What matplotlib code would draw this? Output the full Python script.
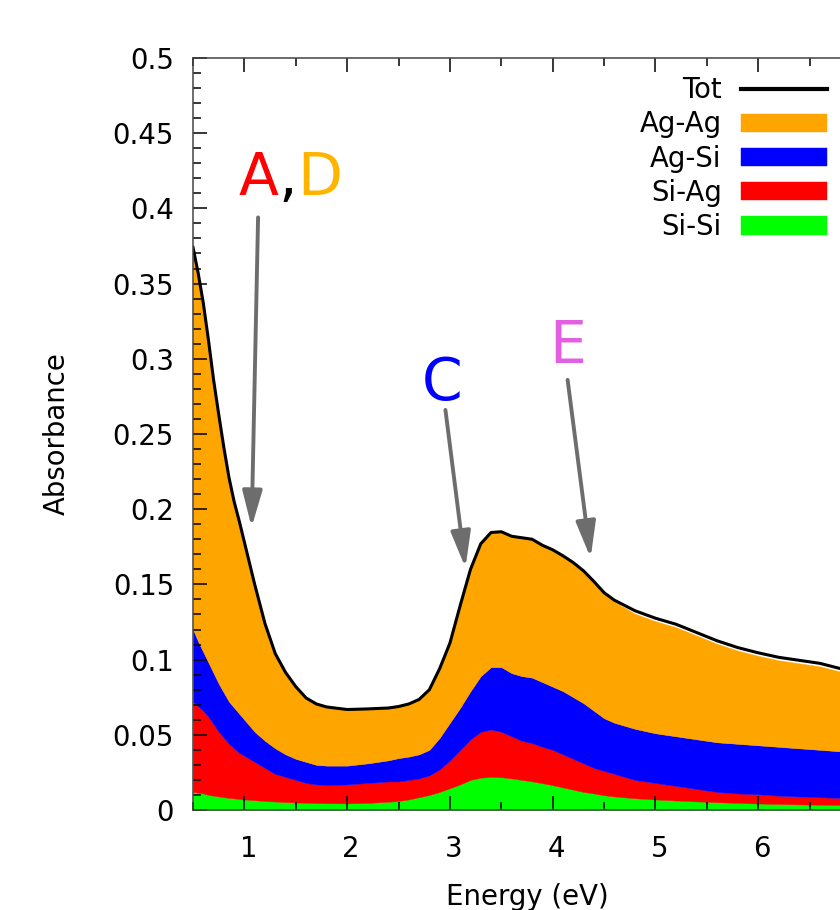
import numpy as np
import matplotlib.pyplot as plt
import matplotlib.transforms as mtransforms
from matplotlib.ticker import MultipleLocator, FormatStrFormatter

# photon energy grid (eV)
energy = [0.5, 0.55, 0.6, 0.65, 0.7, 0.75, 0.8, 0.85, 0.9, 0.95, 1.0,
          1.1, 1.2, 1.3, 1.4, 1.5, 1.6, 1.7, 1.8, 2.0, 2.2, 2.4,
          2.5, 2.6, 2.7, 2.8, 2.9, 3.0, 3.1, 3.2, 3.3, 3.4, 3.5, 3.6, 3.7,
          3.8, 3.9, 4.0, 4.1, 4.2, 4.3, 4.4, 4.5, 4.6,
          4.8, 5.0, 5.2, 5.4, 5.6, 5.8, 6.0, 6.2, 6.4, 6.6, 6.8, 7.0]

# total absorbance
tot = [0.374, 0.357, 0.337, 0.3125, 0.286, 0.263, 0.241, 0.221, 0.205, 0.192, 0.178,
       0.150, 0.124, 0.104, 0.0915, 0.082, 0.0745, 0.0705, 0.0685, 0.0668, 0.0672, 0.0678,
       0.0688, 0.0705, 0.0735, 0.080, 0.094, 0.111, 0.136, 0.160, 0.177, 0.1845, 0.185, 0.182, 0.181,
       0.180, 0.176, 0.173, 0.169, 0.1645, 0.159, 0.152, 0.1445, 0.1395,
       0.1325, 0.1275, 0.1235, 0.118, 0.1125, 0.108, 0.1045, 0.1015, 0.0995, 0.0975, 0.094, 0.0905]

# cumulative upper edges of the stacked contributions
top_agag = [0.374, 0.357, 0.337, 0.3125, 0.286, 0.263, 0.241, 0.221, 0.205, 0.192, 0.178,
            0.150, 0.124, 0.104, 0.0915, 0.082, 0.0745, 0.0705, 0.0685, 0.0668, 0.0672, 0.0678,
            0.0688, 0.0705, 0.0735, 0.080, 0.094, 0.111, 0.136, 0.160, 0.177, 0.1845, 0.185, 0.182, 0.181,
            0.180, 0.176, 0.173, 0.169, 0.1645, 0.159, 0.152, 0.1445, 0.1385,
            0.1305, 0.1255, 0.1215, 0.116, 0.1105, 0.106, 0.1025, 0.0995, 0.0975, 0.0955, 0.092, 0.0885]

top_agsi = [0.120, 0.112, 0.105, 0.098, 0.091, 0.084, 0.078, 0.072, 0.068, 0.064, 0.060,
            0.052, 0.046, 0.041, 0.037, 0.034, 0.032, 0.030, 0.0295, 0.0295, 0.031, 0.033,
            0.0345, 0.0355, 0.037, 0.040, 0.048, 0.058, 0.068, 0.079, 0.089, 0.095, 0.095, 0.091, 0.089,
            0.088, 0.085, 0.082, 0.079, 0.075, 0.071, 0.066, 0.061, 0.058,
            0.054, 0.051, 0.049, 0.047, 0.045, 0.044, 0.043, 0.042, 0.041, 0.040, 0.039, 0.038]

top_siag = [0.072, 0.069, 0.066, 0.062, 0.057, 0.052, 0.048, 0.044, 0.041, 0.038, 0.036,
            0.032, 0.028, 0.024, 0.022, 0.020, 0.018, 0.017, 0.0165, 0.017, 0.018, 0.019,
            0.019, 0.020, 0.021, 0.023, 0.027, 0.033, 0.040, 0.047, 0.052, 0.0535, 0.052, 0.049, 0.046,
            0.0445, 0.042, 0.040, 0.037, 0.034, 0.031, 0.028, 0.026, 0.024,
            0.020, 0.018, 0.016, 0.014, 0.012, 0.011, 0.0105, 0.0095, 0.009, 0.0085, 0.008, 0.0075]

top_sisi = [0.012, 0.0115, 0.011, 0.010, 0.0095, 0.009, 0.0085, 0.008, 0.0077, 0.0073, 0.007,
            0.0065, 0.006, 0.0056, 0.0053, 0.005, 0.0048, 0.0046, 0.0045, 0.0044, 0.0047, 0.0055,
            0.006, 0.007, 0.0085, 0.010, 0.012, 0.0145, 0.017, 0.020, 0.0215, 0.022, 0.0218, 0.021, 0.020,
            0.019, 0.0178, 0.0165, 0.015, 0.0135, 0.012, 0.011, 0.0098, 0.009,
            0.0078, 0.007, 0.0063, 0.0057, 0.0052, 0.0047, 0.0043, 0.004, 0.0037, 0.0035, 0.0033, 0.0031]

xtick_vals = [1, 2, 3, 4, 5, 6]

fs = 19.8
plt.rcParams['font.family'] = 'DejaVu Sans'

fig = plt.figure(figsize=(8.4, 9.1), dpi=100)
ax = fig.add_axes([0.2298, 0.1099, 0.7952, 0.8264])

E = np.array(energy)
f_sisi = ax.fill_between(E, 0, top_sisi, color='#00ff00', ec='face', lw=0.3, label='Si-Si')
f_siag = ax.fill_between(E, top_sisi, top_siag, color='#ff0000', ec='face', lw=0.3, label='Si-Ag')
f_agsi = ax.fill_between(E, top_siag, top_agsi, color='#0000ff', ec='face', lw=0.3, label='Ag-Si')
f_agag = ax.fill_between(E, top_agsi, top_agag, color='#ffa500', ec='face', lw=0.3, label='Ag-Ag')
l_tot, = ax.plot(E, tot, color='black', lw=2.2, label='Tot')

ax.set_xlim(0.5, 7)
ax.set_ylim(0, 0.5)
ax.set_xticks(xtick_vals)
ax.xaxis.set_minor_locator(MultipleLocator(0.5))
ax.yaxis.set_major_locator(MultipleLocator(0.05))
ax.yaxis.set_minor_locator(MultipleLocator(0.01))
ax.yaxis.set_major_formatter(FormatStrFormatter('%g'))

ax.tick_params(which='both', direction='in', top=True, right=True, width=1.1, colors='black')
ax.tick_params(which='major', length=10)
ax.tick_params(which='minor', length=5.8)
ax.tick_params(axis='x', which='major', labelsize=fs, pad=18)
ax.tick_params(axis='y', which='major', labelsize=fs, pad=13.7)
for sp in ax.spines.values():
    sp.set_color('#444444')
    sp.set_linewidth(1.1)

# x labels sit a few pixels right of their ticks
nudge = mtransforms.ScaledTranslation(4 / 100, 0, fig.dpi_scale_trans)
for tick in ax.xaxis.get_major_ticks():
    tick.label1.set_transform(tick.label1.get_transform() + nudge)

ax.set_xlabel('Energy (eV)', fontsize=fs)
ax.set_ylabel('Absorbance', fontsize=fs)
ax.xaxis.set_label_coords(0.5, -0.097)
ax.yaxis.set_label_coords(-0.183, 0.5)

ax.legend(handles=[l_tot, f_agag, f_agsi, f_siag, f_sisi], loc='upper right',
          bbox_to_anchor=(0.9487, 0.9757), borderaxespad=0, borderpad=0,
          frameon=False, markerfirst=False, fontsize=fs, handlelength=3.13,
          handleheight=0.64, handletextpad=0.69, labelspacing=0.227)
ax.get_legend().legend_handles[0].set_linewidth(3)

# peak labels with arrows
arrow = dict(arrowstyle='-|>,head_length=1.1,head_width=0.3', color='#6d6d6d',
             lw=2.8, shrinkA=0, shrinkB=0, mutation_scale=20)
ax.annotate('', xy=(1.07, 0.188), xytext=(1.133, 0.394), arrowprops=arrow)
ax.annotate('', xy=(3.151, 0.161), xytext=(2.956, 0.266), arrowprops=arrow)
ax.annotate('', xy=(4.369, 0.1676), xytext=(4.145, 0.286), arrowprops=arrow)

big = 42
t_a = ax.text(0.941, 0.4089, 'A', color='#ff0000', fontsize=big, ha='left', va='baseline')
t_c = ax.annotate(',', xy=(1, 0), xycoords=t_a, color='black', fontsize=big,
                  ha='left', va='bottom')
ax.annotate('D', xy=(1, 0), xycoords=t_c, color='#ffb400', fontsize=big,
            ha='left', va='bottom')
ax.text(2.722, 0.2729, 'C', color='#0000ff', fontsize=big, ha='left', va='baseline')
ax.text(3.964, 0.2972, 'E', color='#e25fdf', fontsize=big, ha='left', va='baseline')

fig.savefig('out.png', dpi=100)
